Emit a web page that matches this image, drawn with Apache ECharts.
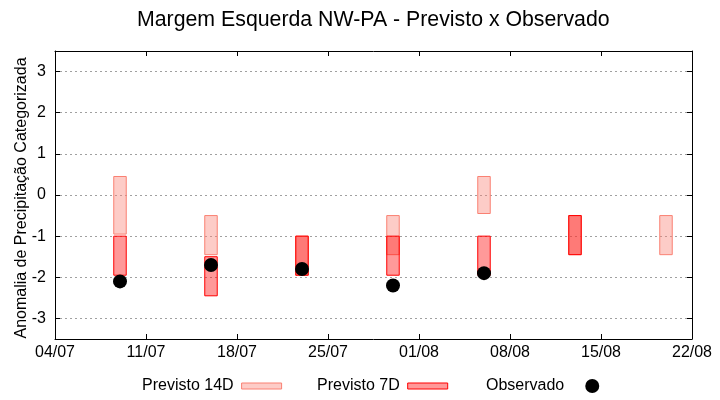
<!DOCTYPE html>
<html><head><meta charset="utf-8">
<script src="https://cdn.jsdelivr.net/npm/echarts@6/dist/echarts.min.js"></script>
<style>html,body{margin:0;padding:0;background:#fff}#c{width:720px;height:400px}</style>
</head><body><div id="c"></div>
<script>
// ---- data ----
const startDate = '2024-07-04';
const endDate = '2024-08-22';
const dates14D = ['2024-07-09','2024-07-16','2024-07-23','2024-07-30','2024-08-06','2024-08-13','2024-08-20'];
const low14D  = [-0.95, -1.45, -1.95, -1.45, -0.45, -1.45, -1.45];
const high14D = [ 0.45, -0.50, -1.00, -0.50,  0.45, -0.50, -0.50];
const dates7D = ['2024-07-09','2024-07-16','2024-07-23','2024-07-30','2024-08-06','2024-08-13'];
const low7D  = [-1.95, -2.45, -1.95, -1.95, -1.95, -1.45];
const high7D = [-1.00, -1.50, -1.00, -1.00, -1.00, -0.50];
const datesObs = ['2024-07-09','2024-07-16','2024-07-23','2024-07-30','2024-08-06'];
const valuesObs = [-2.1, -1.7, -1.8, -2.2, -1.9];
const yTicks = [-3, -2, -1, 0, 1, 2, 3];
const xTickLabels = ['04/07','11/07','18/07','25/07','01/08','08/08','15/08','22/08'];

// ---- helpers ----
const DAY = 86400000;
const t0 = Date.parse(startDate);
const dayOf = s => (Date.parse(s) - t0) / DAY;
const xMax = dayOf(endDate);

const data14D = dates14D.map((d, i) => [dayOf(d), low14D[i], high14D[i]]);
const data7D = dates7D.map((d, i) => [dayOf(d), low7D[i], high7D[i]]);
const dataObs = datesObs.map((d, i) => [dayOf(d), valuesObs[i]]);

const HALF = 0.48;
function boxRender(fill, stroke) {
  return function (params, api) {
    const x = api.value(0);
    const p1 = api.coord([x - HALF, api.value(2)]);
    const p2 = api.coord([x + HALF, api.value(1)]);
    return {
      type: 'rect',
      shape: { x: p1[0], y: p1[1], width: p2[0] - p1[0], height: p2[1] - p1[1] },
      style: { fill: fill, stroke: stroke, lineWidth: 1 }
    };
  };
}

const FONT = 'Liberation Sans';
const fill14 = 'rgba(250,128,114,0.4)', stroke14 = '#fa8072';
const fill7 = 'rgba(255,0,0,0.4)', stroke7 = '#ff0000';

const chart = echarts.init(document.getElementById('c'), null, { renderer: 'canvas' });
const tickCommon = { show: true, inside: true, length: 5, lineStyle: { color: '#000', width: 1 } };
const lineCommon = { show: true, onZero: false, lineStyle: { color: '#000', width: 1 } };
const legendText = { fontFamily: FONT, fontSize: 16, color: '#000', padding: [0, 3, 0, 0] };

chart.setOption({
  animation: false,
  backgroundColor: '#fff',
  textStyle: { fontFamily: FONT },
  title: {
    text: 'Margem Esquerda NW-PA - Previsto x Observado',
    left: 137, top: 10, padding: 0,
    textStyle: { fontFamily: FONT, fontSize: 21.3, fontWeight: 'normal', color: '#000' }
  },
  grid: { left: 55, right: 28, top: 51, bottom: 61, containLabel: false },
  legend: [
    { left: 142, top: 378, padding: 0, align: 'right', itemWidth: 40, itemHeight: 6, itemGap: 0,
      textStyle: legendText, selectedMode: false,
      data: [{ name: 'Previsto 14D', icon: 'rect', itemStyle: { color: fill14, borderColor: stroke14, borderWidth: 1 } }] },
    { left: 317, top: 378, padding: 0, align: 'right', itemWidth: 40, itemHeight: 6, itemGap: 0,
      textStyle: legendText, selectedMode: false,
      data: [{ name: 'Previsto 7D', icon: 'rect', itemStyle: { color: fill7, borderColor: stroke7, borderWidth: 1 } }] },
    { left: 486, top: 378, padding: 0, align: 'right', itemWidth: 40, itemHeight: 14, itemGap: 0,
      textStyle: legendText, selectedMode: false,
      data: [{ name: 'Observado', icon: 'circle', itemStyle: { color: '#000' } }] }
  ],
  xAxis: [
    { type: 'value', min: 0, max: xMax, interval: 7, position: 'bottom',
      axisLine: lineCommon, axisTick: tickCommon, splitLine: { show: false },
      axisLabel: { fontFamily: FONT, fontSize: 16, color: '#000', margin: 6,
        formatter: v => xTickLabels[Math.round(v / 7)] } },
    { type: 'value', min: 0, max: xMax, interval: 7, position: 'top',
      axisLine: lineCommon, axisTick: tickCommon, splitLine: { show: false }, axisLabel: { show: false } }
  ],
  yAxis: [
    { type: 'value', min: -3.5, max: 3.5, position: 'left',
      name: 'Anomalia de Precipitação Categorizada', nameLocation: 'middle', nameGap: 25,
      nameMoveOverlap: false,
      nameTextStyle: { fontFamily: FONT, fontSize: 16, color: '#000', padding: [0, 6, 0, 0] },
      axisLine: lineCommon,
      axisTick: Object.assign({ customValues: yTicks }, tickCommon),
      axisLabel: { customValues: yTicks, fontFamily: FONT, fontSize: 16, color: '#000', margin: 9 },
      splitLine: { show: true, lineStyle: { color: '#a0a0a0', width: 1, type: [2, 3] } } },
    { type: 'value', min: -3.5, max: 3.5, position: 'right',
      axisLine: lineCommon,
      axisTick: Object.assign({ customValues: yTicks }, tickCommon),
      axisLabel: { show: false, customValues: yTicks }, splitLine: { show: false } }
  ],
  series: [
    { name: 'Previsto 14D', type: 'custom', xAxisIndex: 0, yAxisIndex: 0,
      renderItem: boxRender(fill14, stroke14), encode: { x: 0, y: [1, 2] }, data: data14D, z: 2 },
    { name: 'Previsto 7D', type: 'custom', xAxisIndex: 0, yAxisIndex: 0,
      renderItem: boxRender(fill7, stroke7), encode: { x: 0, y: [1, 2] }, data: data7D, z: 3 },
    { name: 'Observado', type: 'scatter', xAxisIndex: 0, yAxisIndex: 0,
      symbol: 'circle', symbolSize: 14, itemStyle: { color: '#000', opacity: 1 }, data: dataObs, z: 4 }
  ]
});
</script></body></html>
